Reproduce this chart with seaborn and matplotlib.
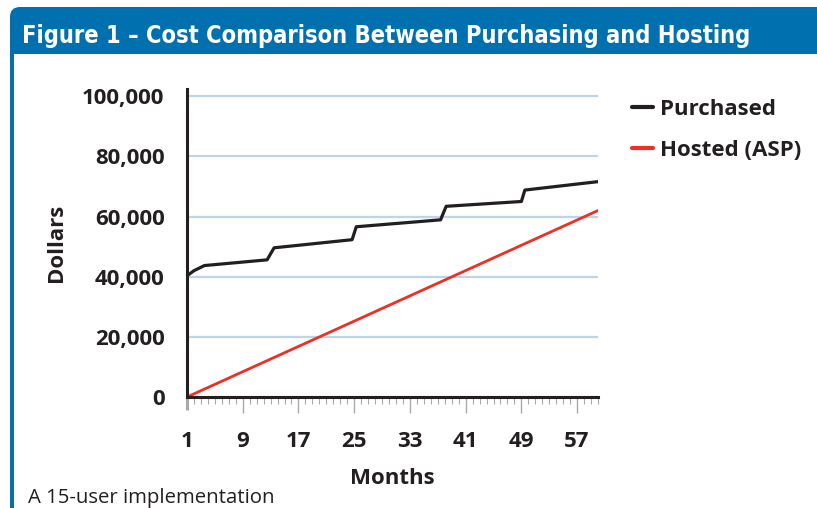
import matplotlib
matplotlib.use('Agg')
import numpy as np
import pandas as pd
import matplotlib.pyplot as plt
import seaborn as sns
from matplotlib.patches import FancyBboxPatch, Rectangle
from matplotlib import font_manager
from matplotlib.font_manager import FontProperties

# values
purchased_months = [1, 2, 3.5, 12.5, 13.5, 24.7, 25.3, 37.4, 38.2, 49.0, 49.5, 60]
purchased_dollars = [40300, 42000, 43700, 45600, 49600, 52300, 56600, 58900, 63400, 65000, 68800, 71600]
hosted_months = [1, 60]
hosted_dollars = [0, 62000]
series_names = ['Purchased', 'Hosted (ASP)']
series_colors = ['#231f20', '#ee2f24']
month_ticks = [1, 9, 17, 25, 33, 41, 49, 57]
dollar_ticks = [0, 20000, 40000, 60000, 80000, 100000]
dollar_labels = ['0', '20,000', '40,000', '60,000', '80,000', '100,000']

title_text = 'Figure 1 \u2013 Cost Comparison Between Purchasing and Hosting'
caption_text = 'A 15-user implementation'

W, H = 817, 508
BLUE = '#0071ae'
GRID = '#bcd5ea'
FS = 16

sns.set_theme(style='white')
plt.rcParams['font.family'] = ['Open Sans', 'DejaVu Sans']

df = pd.concat([
    pd.DataFrame({'Month': purchased_months, 'Dollars': purchased_dollars, 'series': series_names[0]}),
    pd.DataFrame({'Month': hosted_months, 'Dollars': hosted_dollars, 'series': series_names[1]}),
])

fig = plt.figure(figsize=(W / 100, H / 100), dpi=100)
fig.patch.set_facecolor('white')

# frame: blue header band with rounded corner + thin left border
fig.patches.append(FancyBboxPatch((10 / 100, -0.3), 9.0, (H - 7) / 100 + 0.3,
                                  boxstyle='round,pad=0,rounding_size=0.1',
                                  transform=fig.dpi_scale_trans, facecolor=BLUE,
                                  edgecolor='none', zorder=1))
fig.patches.append(Rectangle((14 / 100, -0.5), 9.0, (H - 54) / 100 + 0.5,
                             transform=fig.dpi_scale_trans, facecolor='white',
                             edgecolor='none', zorder=1.1))

ax = fig.add_axes([187 / W, 1 - 397 / H, (598 - 187) / W, (397 - 89) / H])
ax.set_zorder(2)
ax.patch.set_alpha(0)

sns.lineplot(data=df, x='Month', y='Dollars', hue='series', hue_order=series_names,
             palette=dict(zip(series_names, series_colors)), estimator=None,
             sort=False, ax=ax)
for line, lw in zip(ax.get_lines(), [2.3, 2.0]):
    line.set_linewidth(lw)
    line.set_solid_joinstyle('round')

ax.set_xlim(1, 60)
ax.set_ylim(0, 102400)
ax.set_xticks(month_ticks)
ax.set_xticks(range(1, 61), minor=True)
ax.set_yticks(dollar_ticks)
ax.set_yticklabels(dollar_labels)

for s in ['top', 'right']:
    ax.spines[s].set_visible(False)
for s in ['left', 'bottom']:
    ax.spines[s].set_color('#231f20')
    ax.spines[s].set_linewidth(2.2)

ax.yaxis.grid(True, color=GRID, linewidth=1.6)
ax.xaxis.grid(False)
ax.set_axisbelow(True)

ax.tick_params(axis='y', which='major', length=12.2, width=1.6, color=GRID,
               pad=4, labelsize=FS, labelcolor='#231f20')
ax.tick_params(axis='x', which='major', length=11.5, width=1.0, color='#aaaaaa',
               pad=13, labelsize=FS, labelcolor='#231f20', bottom=True)
ax.tick_params(axis='x', which='minor', length=5, width=0.8, color='#aaaaaa', bottom=True)
for lab in ax.get_xticklabels() + ax.get_yticklabels():
    lab.set_fontweight('bold')

# black cross at the origin
t0 = ax.yaxis.get_major_ticks()[0]
t0.tick1line.set_color('#231f20')
t0.tick1line.set_markersize(10)
t0.tick1line.set_markeredgewidth(2.2)
x0 = ax.xaxis.get_major_ticks()[0]
x0.tick1line.set_color('#231f20')
x0.tick1line.set_markersize(9.4)
x0.tick1line.set_markeredgewidth(2.2)

ax.set_xlabel('Months', fontsize=FS, fontweight='bold', color='#231f20', labelpad=11.5)
ax.set_ylabel('Dollars', fontsize=FS, fontweight='bold', color='#231f20', labelpad=11)

handles, labels = ax.get_legend_handles_labels()
ax.legend(handles, labels, loc='upper left', bbox_to_anchor=(632 / W, 1 - 99 / H),
          bbox_transform=fig.transFigure, frameon=False, borderpad=0, borderaxespad=0,
          handlelength=0.95, handletextpad=0.3, labelspacing=0.88,
          prop={'size': FS, 'weight': 'bold'})
for txt in ax.get_legend().get_texts():
    txt.set_color('#231f20')
for lh in ax.get_legend().get_lines():
    lh.set_linewidth(3)

# title in a condensed bold face if one is installed, fitted to the reference width
title_props = None
for fam in ['Noto Sans', 'DejaVu Sans', 'Open Sans', 'Liberation Sans Narrow']:
    for f in font_manager.fontManager.ttflist:
        stretch = str(f.stretch)
        if f.name == fam and ('condensed' in stretch or stretch in ('75', '87', '62')) \
                and ('extra' not in stretch and 'ultra' not in stretch) \
                and (str(f.weight) in ('bold', '700', 'semibold', '600', 'demibold')):
            title_props = FontProperties(fname=f.fname)
            break
    if title_props is not None:
        break
if title_props is None:
    title_props = FontProperties(family=['Open Sans', 'DejaVu Sans'], weight='bold')
title_props.set_size(20)
title = fig.text(22 / W, 1 - 42.5 / H, title_text, color='white',
                 fontproperties=title_props, va='baseline', ha='left', zorder=3)
fig.canvas.draw()
w = title.get_window_extent().width
title.set_fontsize(20 * 730 / w)

fig.text(28 / W, 1 - 503 / H, caption_text, fontsize=14.7, color='#231f20',
         va='baseline', ha='left', zorder=3)

fig.savefig('out.png', dpi=100, facecolor='white')
